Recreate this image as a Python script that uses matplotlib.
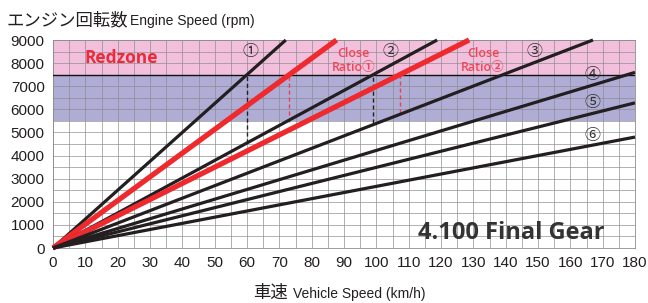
import matplotlib
matplotlib.use("Agg")
import matplotlib.pyplot as plt
from matplotlib.ticker import MultipleLocator

# ---- data ----
gear_names = ["1", "CR1", "2", "CR2", "3", "4", "5", "6"]
gear_end_speed = [72, 87.7, 118.8, 128.7, 167, 180, 180, 180]
gear_end_rpm = [9000, 9000, 9000, 9000, 9000, 7600, 6280, 4800]
gear_is_close = [False, True, False, True, False, False, False, False]

shift_speed = [60, 73, 99, 107.3]
shift_low_rpm = [4550, 5450, 5420, 5830]
shift_is_close = [False, True, False, True]

redline_rpm = 7500
redzone_top = 9000
band_low = 5500

x_ticks = list(range(0, 181, 10))
y_ticks = list(range(0, 9001, 1000))

circled = ["①", "②", "③", "④", "⑤", "⑥"]
circled_pos = [(61, 8500), (104.5, 8500), (149, 8500), (167, 7520), (167, 6300), (167, 4850)]

W, H = 648, 303
fig = plt.figure(figsize=(W / 100, H / 100), dpi=100)
ax = fig.add_axes([53 / W, 1 - 248 / H, 582 / W, 208 / H])

ax.set_xlim(0, 180)
ax.set_ylim(0, 9000)

# bands
ax.axhspan(redline_rpm, redzone_top, color="#f2c0dd", zorder=0, lw=0)
ax.axhspan(band_low, redline_rpm, color="#afadd6", zorder=0, lw=0)

ax.xaxis.set_major_locator(MultipleLocator(10))
ax.xaxis.set_minor_locator(MultipleLocator(5))
ax.yaxis.set_major_locator(MultipleLocator(1000))
ax.yaxis.set_minor_locator(MultipleLocator(500))
ax.grid(which="both", color="#8c8c8c", lw=0.6, alpha=0.8, zorder=1)
ax.set_axisbelow(True)
for s in ax.spines.values():
    s.set_color("#8c8c8c")
    s.set_linewidth(0.6)
ax.tick_params(which="both", length=0, labelsize=11, colors="#231f20", pad=6)
ax.set_xticks(x_ticks)
ax.set_yticks(y_ticks)
for lab in ax.get_xticklabels() + ax.get_yticklabels():
    lab.set_fontfamily("Liberation Sans")

ax.axhline(redline_rpm, color="#111111", lw=1.0, zorder=3)

# shift dashed lines
for sp, lo, cl in zip(shift_speed, shift_low_rpm, shift_is_close):
    ax.plot([sp, sp], [lo, redline_rpm], ls=(0, (3, 2)), lw=1.0,
            color="#e8434f" if cl else "#222222", zorder=3)

# gear lines
for xe, ye, cl in zip(gear_end_speed, gear_end_rpm, gear_is_close):
    ax.plot([0, xe], [0, ye], color="#ee2a2e" if cl else "#231f20",
            lw=3.8 if cl else 2.3, solid_capstyle="butt", zorder=4, clip_on=False)

# circled labels
for t, (xx, yy) in zip(circled, circled_pos):
    ax.text(xx, yy, t, ha="center", va="center", fontsize=11.5, color="#333333",
            family=["Noto Sans CJK JP", "DejaVu Sans"], zorder=5)

ax.text(93, 8100, "Close\nRatio①", ha="center", va="center", fontsize=9,
        color="#ee4655", family=["Open Sans", "Noto Sans CJK JP"], fontweight="semibold",
        linespacing=1.1, zorder=5)
ax.text(133, 8100, "Close\nRatio②", ha="center", va="center", fontsize=9,
        color="#ee4655", family=["Open Sans", "Noto Sans CJK JP"], fontweight="semibold",
        linespacing=1.1, zorder=5)

ax.text(9.8, 8200, "Redzone", ha="left", va="center", fontsize=12.5, fontweight="bold",
        color="#ee2a3a", family="Open Sans", zorder=5)

ax.text(170.5, 650, "4.100 Final Gear", ha="right", va="center", fontsize=17,
        fontweight="bold", color="#333333", family="Open Sans", zorder=5)

# axis titles
fig.text(7 / W, 1 - 25 / H, "エンジン回転数", ha="left", va="baseline", fontsize=12.5,
         color="#231f20", family="Noto Sans CJK JP")
fig.text(130 / W, 1 - 25 / H, "Engine Speed (rpm)", ha="left", va="baseline", fontsize=10,
         color="#231f20", family="Liberation Sans")
fig.text(253 / W, 1 - 298 / H, "車速", ha="left", va="baseline", fontsize=12.5,
         color="#231f20", family="Noto Sans CJK JP")
fig.text(293 / W, 1 - 298 / H, "Vehicle Speed (km/h)", ha="left", va="baseline", fontsize=10,
         color="#231f20", family="Liberation Sans")

fig.savefig("out.png", dpi=100)
